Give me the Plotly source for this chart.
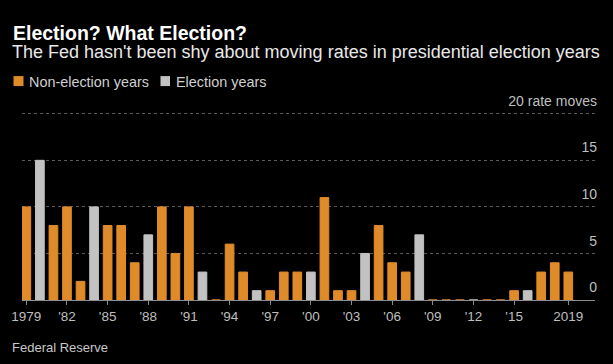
import plotly.graph_objects as go

years = list(range(1979, 2020))
rate_moves = [10, 15, 8, 10, 2, 10, 8, 8, 4, 7, 10, 5, 10, 3, 0, 6, 3, 1, 1, 3,
              3, 3, 11, 1, 1, 5, 8, 4, 3, 7, 0, 0, 0, 0, 0, 0, 1, 1, 3, 4, 3]
election_years = [1980, 1984, 1988, 1992, 1996, 2000, 2004, 2008, 2012, 2016]
tick_years = [1979, 1982, 1985, 1988, 1991, 1994, 1997, 2000, 2003, 2006, 2009, 2012, 2015, 2019]
tick_labels = ["1979", "'82", "'85", "'88", "'91", "'94", "'97", "'00", "'03", "'06", "'09", "'12", "'15", "2019"]
y_ticks = [0, 5, 10, 15, 20]
y_labels = ["0", "5", "10", "15", "20 rate moves"]

ORANGE = "#E08B2A"
GRAY = "#C2C2C2"
FONT = "Liberation Sans, Arial, sans-serif"

W, H = 613, 364
ML, MR, MT, MB = 22, 18, 110.5, 64
PW = W - ML - MR
PH = H - MT - MB

def px(x):
    return (x - ML) / PW

def py(y):
    return (H - MB - y) / PH

non_x = [y for y in years if y not in election_years]
non_v = [v for y, v in zip(years, rate_moves) if y not in election_years]
el_x = [y for y in years if y in election_years]
el_v = [v for y, v in zip(years, rate_moves) if y in election_years]

fig = go.Figure()
fig.add_trace(go.Bar(x=non_x, y=non_v, name="Non-election years", width=0.64,
                     marker=dict(color=ORANGE, line=dict(color=ORANGE, width=1)),
                     showlegend=False))
fig.add_trace(go.Bar(x=el_x, y=el_v, name="Election years", width=0.64,
                     marker=dict(color=GRAY, line=dict(color=GRAY, width=1)),
                     showlegend=False))

annotations = [
    dict(text="<b>Election? What Election?</b>", x=px(11), y=py(32), xref="paper", yref="paper",
         xanchor="left", yanchor="middle", showarrow=False,
         font=dict(family=FONT, size=19.5, color="#ffffff")),
    dict(text="The Fed hasn't been shy about moving rates in presidential election years",
         x=px(10), y=py(51), xref="paper", yref="paper", xanchor="left", yanchor="middle",
         showarrow=False, font=dict(family=FONT, size=18, color="#e8e8e8")),
    dict(text="Non-election years", x=px(27), y=py(81.5), xref="paper", yref="paper",
         xanchor="left", yanchor="middle", showarrow=False,
         font=dict(family=FONT, size=14.4, color="#cfcfcf")),
    dict(text="Election years", x=px(174), y=py(81.5), xref="paper", yref="paper",
         xanchor="left", yanchor="middle", showarrow=False,
         font=dict(family=FONT, size=14.4, color="#cfcfcf")),
    dict(text="Federal Reserve", x=px(10), y=py(348), xref="paper", yref="paper",
         xanchor="left", yanchor="middle", showarrow=False,
         font=dict(family=FONT, size=13, color="#c8c8c8")),
]

shapes = [
    dict(type="rect", xref="paper", yref="paper", x0=px(13.5), x1=px(23.5), y0=py(85.5), y1=py(75.5),
         fillcolor=ORANGE, line=dict(width=0)),
    dict(type="rect", xref="paper", yref="paper", x0=px(160.5), x1=px(170), y0=py(85.5), y1=py(75.5),
         fillcolor=GRAY, line=dict(width=0)),
]

fig.update_layout(
    width=W, height=H,
    margin=dict(l=ML, r=MR, t=MT, b=MB, autoexpand=False),
    paper_bgcolor="#000000", plot_bgcolor="#000000",
    barmode="overlay",
    annotations=annotations,
    shapes=shapes,
    showlegend=False,
    font=dict(family=FONT, color="#bfbfbf"),
)
fig.update_xaxes(
    range=[1978.68, 2020.97], automargin=False,
    tickmode="array", tickvals=tick_years, ticktext=tick_labels,
    ticks="outside", ticklen=4, tickcolor="#8c8c8c",
    showline=True, linecolor="#8c8c8c", linewidth=1,
    showgrid=False, zeroline=False,
    tickfont=dict(family=FONT, size=13.5, color="#bfbfbf"),
)
fig.update_yaxes(
    range=[0, 20.3], automargin=False,
    side="right",
    tickmode="array", tickvals=y_ticks, ticktext=y_labels,
    ticklabelposition="inside top", ticklabeloverflow="allow",
    ticklabelstandoff=-5, ticklabelshift=-3,
    showgrid=True, gridcolor="#5a5a5a", griddash="dot", gridwidth=1,
    zeroline=False, showline=False, ticks="",
    tickfont=dict(family=FONT, size=14, color="#bfbfbf"),
)

fig.write_html("out.html", config={"displayModeBar": False},
               post_script="document.body.style.margin='0';document.body.style.background='#000';")
